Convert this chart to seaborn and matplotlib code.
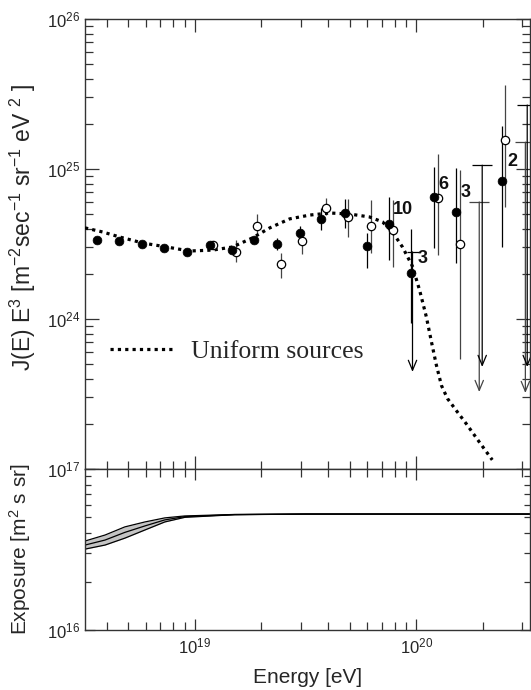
import numpy as np
import pandas as pd
import matplotlib
matplotlib.use("Agg")
import matplotlib.pyplot as plt
import seaborn as sns
from matplotlib.ticker import LogLocator, NullFormatter
from matplotlib.font_manager import FontProperties

# ---------------- data ----------------
# filled circles
filled_E = [3.62e18, 4.55e18, 5.77e18, 7.24e18, 9.20e18, 1.17e19, 1.47e19, 1.85e19, 2.34e19,
            2.97e19, 3.73e19, 4.74e19, 5.96e19, 7.55e19, 9.48e19, 1.205e20, 1.51e20, 2.44e20]
filled_J = [3.37e24, 3.31e24, 3.16e24, 2.97e24, 2.80e24, 3.11e24, 2.88e24, 3.37e24, 3.16e24,
            3.74e24, 4.65e24, 5.09e24, 3.07e24, 4.30e24, 2.03e24, 6.50e24, 5.16e24, 8.32e24]
filled_hi = [3.53e24, 3.47e24, 3.31e24, 3.11e24, 2.93e24, 3.26e24, 3.02e24, 3.53e24, 3.47e24,
             4.17e24, 5.50e24, 6.31e24, 3.74e24, 6.50e24, 3.98e24, 1.03e25, 1.016e25, 1.94e25]
filled_lo = [3.22e24, 3.16e24, 3.02e24, 2.84e24, 2.67e24, 2.97e24, 2.75e24, 3.22e24, 2.88e24,
             3.37e24, 3.92e24, 4.05e24, 2.19e24, 2.47e24, 9.40e23, 2.97e24, 2.36e24, 3.02e24]

# open circles
open_E = [1.205e19, 1.53e19, 1.90e19, 2.44e19, 3.06e19, 3.89e19, 4.89e19, 6.21e19, 7.80e19,
          1.245e20, 1.58e20, 2.52e20]
open_J = [3.11e24, 2.80e24, 4.17e24, 2.33e24, 3.31e24, 5.50e24, 4.79e24, 4.17e24, 3.92e24,
          6.41e24, 3.16e24, 1.56e25]
open_hi = [3.26e24, 3.37e24, 5.01e24, 2.75e24, 3.52e24, 6.41e24, 6.31e24, 6.21e24, 6.21e24,
           1.26e25, 9.84e24, 3.63e25]
open_lo = [2.97e24, 2.40e24, 3.69e24, 1.87e24, 2.71e24, 4.93e24, 3.52e24, 2.75e24, 2.22e24,
           2.67e24, 5.41e23, 5.58e24]

# upper limits (cap value and arrow tip)
ul_E = [9.60e19, 1.92e20, 1.98e20, 3.10e20, 3.16e20]
ul_cap = [2.80e24, 6.03e24, 1.06e25, 1.51e25, 2.67e25]
ul_tip = [4.44e23, 3.26e23, 4.79e23, 3.21e23, 4.79e23]
ul_color = ["black", "#444444", "black", "#444444", "black"]
ul_capsize = [9, 15, 15, 15, 15]

# event-count annotations
count_text = ["10", "6", "3", "2", "3"]
count_E = [7.80e19, 1.256e20, 1.578e20, 2.57e20, 1.01e20]
count_J = [5.33e24, 7.94e24, 6.92e24, 1.12e25, 2.53e24]

# model curve "Uniform sources"
curve_E = [3.20e18, 3.85e18, 4.59e18, 5.83e18, 7.48e18, 9.48e18, 1.205e19, 1.48e19, 1.82e19,
           2.18e19, 2.68e19, 3.30e19, 4.06e19, 4.99e19, 6.14e19, 7.03e19, 7.80e19, 8.65e19,
           9.59e19, 1.033e20, 1.109e20, 1.169e20, 1.230e20, 1.297e20, 1.380e20, 1.514e20,
           1.679e20, 1.923e20, 2.198e20]
curve_J = [4.05e24, 3.80e24, 3.52e24, 3.21e24, 3.02e24, 2.84e24, 2.88e24, 3.02e24, 3.47e24,
           4.05e24, 4.65e24, 4.93e24, 5.09e24, 5.01e24, 4.79e24, 4.44e24, 3.80e24, 3.02e24,
           2.25e24, 1.56e24, 1.03e24, 7.03e23, 4.93e23, 3.60e23, 2.95e23, 2.45e23,
           2.00e23, 1.51e23, 1.15e23]
curve_label = "Uniform sources"

# exposure band
exp_E = [3.20e18, 3.94e18, 4.84e18, 5.96e18, 7.33e18, 9.02e18, 1.51e19, 3.16e19, 1.0e20, 3.24e20]
exp_upper = [3.57e16, 3.89e16, 4.37e16, 4.69e16, 4.97e16, 5.11e16, 5.22e16, 5.25e16, 5.25e16, 5.25e16]
exp_mid = [3.37e16, 3.62e16, 4.04e16, 4.43e16, 4.83e16, 5.06e16, 5.21e16, 5.25e16, 5.25e16, 5.25e16]
exp_lower = [3.18e16, 3.37e16, 3.72e16, 4.18e16, 4.69e16, 5.01e16, 5.20e16, 5.25e16, 5.25e16, 5.25e16]

# axes ranges / ticks
x_range = (10 ** 18.505, 10 ** 20.51)
top_y_range = (1e23, 1e26)
bot_y_range = (1e16, 1e17)
top_yticks = [1e23, 1e24, 1e25, 1e26]
top_yticklabels = ["", r"$10^{24}$", r"$10^{25}$", r"$10^{26}$"]
bot_yticks = [1e16, 1e17]
bot_yticklabels = [r"$10^{16}$", r"$10^{17}$"]
xticks = [1e19, 1e20]
xticklabels = [r"$10^{19}$", r"$10^{20}$"]
top_ylabel = r"J(E) E$^3$ [m$^{-2}$sec$^{-1}$ sr$^{-1}$ eV $^2$ ]"
bot_ylabel = r"Exposure [m$^2$ s sr]"
xlabel = "Energy [eV]"

# ---------------- style ----------------
sns.set_theme(style="ticks")
plt.rcParams["font.family"] = ["Liberation Sans", "DejaVu Sans"]
plt.rcParams["mathtext.fontset"] = "custom"
plt.rcParams["mathtext.rm"] = "Liberation Sans"
plt.rcParams["mathtext.it"] = "Liberation Sans:italic"
plt.rcParams["mathtext.bf"] = "Liberation Sans:bold"
plt.rcParams["axes.edgecolor"] = "#333333"
plt.rcParams["axes.linewidth"] = 1.0

fig = plt.figure(figsize=(5.31, 6.90), dpi=100)
L, W = 85 / 531, (529.5 - 85) / 531
ax1 = fig.add_axes([L, 1 - 469 / 690, W, 450 / 690])
ax2 = fig.add_axes([L, 1 - 630 / 690, W, 161 / 690])

# ---------------- top panel ----------------
df_open = pd.DataFrame({"E": open_E, "J": open_J, "hi": open_hi, "lo": open_lo})
df_fill = pd.DataFrame({"E": filled_E, "J": filled_J, "hi": filled_hi, "lo": filled_lo})

ax1.errorbar(df_open["E"], df_open["J"],
             yerr=[df_open["J"] - df_open["lo"], df_open["hi"] - df_open["J"]],
             fmt="none", ecolor="#444444", elinewidth=0.9, capsize=0, zorder=2)
ax1.errorbar(df_fill["E"], df_fill["J"],
             yerr=[df_fill["J"] - df_fill["lo"], df_fill["hi"] - df_fill["J"]],
             fmt="none", ecolor="black", elinewidth=0.9, capsize=0, zorder=2)

sns.lineplot(x=curve_E, y=curve_J, ax=ax1, color="black", lw=2.3,
             linestyle=(0, (1, 1.3)), sort=False, estimator=None,
             label=curve_label, zorder=3)

sns.scatterplot(data=df_open, x="E", y="J", ax=ax1, s=36, marker="o",
                facecolor="white", edgecolor="black", linewidth=0.9, zorder=4,
                legend=False)
sns.scatterplot(data=df_fill, x="E", y="J", ax=ax1, s=40, marker="o",
                color="black", edgecolor="black", linewidth=0.5, zorder=5,
                legend=False)

for e, c, t, col, cs in zip(ul_E, ul_cap, ul_tip, ul_color, ul_capsize):
    ax1.annotate("", xy=(e, t), xytext=(e, c),
                 arrowprops=dict(arrowstyle="->,head_length=0.6,head_width=0.25",
                                 lw=0.9, color=col, shrinkA=0, shrinkB=0),
                 zorder=2)
    ax1.plot([e], [c], ls="none", marker="_", markersize=cs, mew=0.9, color=col, zorder=2)

for txt, e, j in zip(count_text, count_E, count_J):
    ax1.text(e, j, txt, fontsize=13, fontweight="bold", ha="left", va="center",
             color="#111111", zorder=6)

ax1.set_xscale("log")
ax1.set_yscale("log")
ax1.set_xlim(*x_range)
ax1.set_ylim(*top_y_range)
ax1.set_xticks(xticks)
ax1.xaxis.set_minor_locator(LogLocator(base=10, subs=np.arange(2, 10)))
ax1.xaxis.set_minor_formatter(NullFormatter())
ax1.set_yticks(top_yticks)
ax1.set_yticklabels(top_yticklabels)
ax1.yaxis.set_minor_locator(LogLocator(base=10, subs=np.arange(2, 10)))
ax1.yaxis.set_minor_formatter(NullFormatter())
ax1.tick_params(axis="x", which="both", direction="in", top=True, bottom=True,
                labelbottom=False, color="#333333", width=0.9)
ax1.tick_params(axis="x", which="major", length=9.5)
ax1.tick_params(axis="x", which="minor", length=5.5)
ax1.tick_params(axis="y", which="both", direction="in", left=True, right=True,
                color="#333333", width=0.9, labelsize=12, pad=3.5)
ax1.tick_params(axis="y", which="major", length=10)
ax1.tick_params(axis="y", which="minor", length=6)
ax1.set_xlabel("")
ax1.set_ylabel(top_ylabel, fontsize=16.5)
ax1.yaxis.set_label_coords(-0.105, 0.536)

leg = ax1.legend(loc="center left", bbox_to_anchor=(0.0562, 0.262), frameon=False,
                 prop=FontProperties(family="Liberation Serif", size=18.5),
                 handlelength=2.45, handletextpad=0.7, borderpad=0, borderaxespad=0)

# ---------------- bottom panel ----------------
ax2.fill_between(exp_E, exp_lower, exp_upper, color="#c4c4c4", lw=0)
for arr in (exp_upper, exp_mid, exp_lower):
    sns.lineplot(x=exp_E, y=arr, ax=ax2, color="black", lw=0.9, sort=False,
                 estimator=None)

ax2.set_xscale("log")
ax2.set_yscale("log")
ax2.set_xlim(*x_range)
ax2.set_ylim(*bot_y_range)
ax2.set_xticks(xticks)
ax2.set_xticklabels(xticklabels)
ax2.xaxis.set_minor_locator(LogLocator(base=10, subs=np.arange(2, 10)))
ax2.xaxis.set_minor_formatter(NullFormatter())
ax2.set_yticks(bot_yticks)
ax2.set_yticklabels(bot_yticklabels)
ax2.yaxis.set_minor_locator(LogLocator(base=10, subs=np.arange(2, 10)))
ax2.yaxis.set_minor_formatter(NullFormatter())
ax2.tick_params(axis="x", which="both", direction="in", top=True, bottom=True,
                color="#333333", width=0.9, labelsize=12, pad=5)
ax2.tick_params(axis="x", which="major", length=8)
ax2.tick_params(axis="x", which="minor", length=5.5)
ax2.tick_params(axis="y", which="both", direction="in", left=True, right=True,
                color="#333333", width=0.9, labelsize=12, pad=3.5)
ax2.tick_params(axis="y", which="major", length=7)
ax2.tick_params(axis="y", which="minor", length=4.5)
ax2.set_xlabel(xlabel, fontsize=15, labelpad=8)
ax2.set_ylabel(bot_ylabel, fontsize=15)
ax2.yaxis.set_label_coords(-0.117, 0.5)

fig.savefig("out.png", dpi=100)
